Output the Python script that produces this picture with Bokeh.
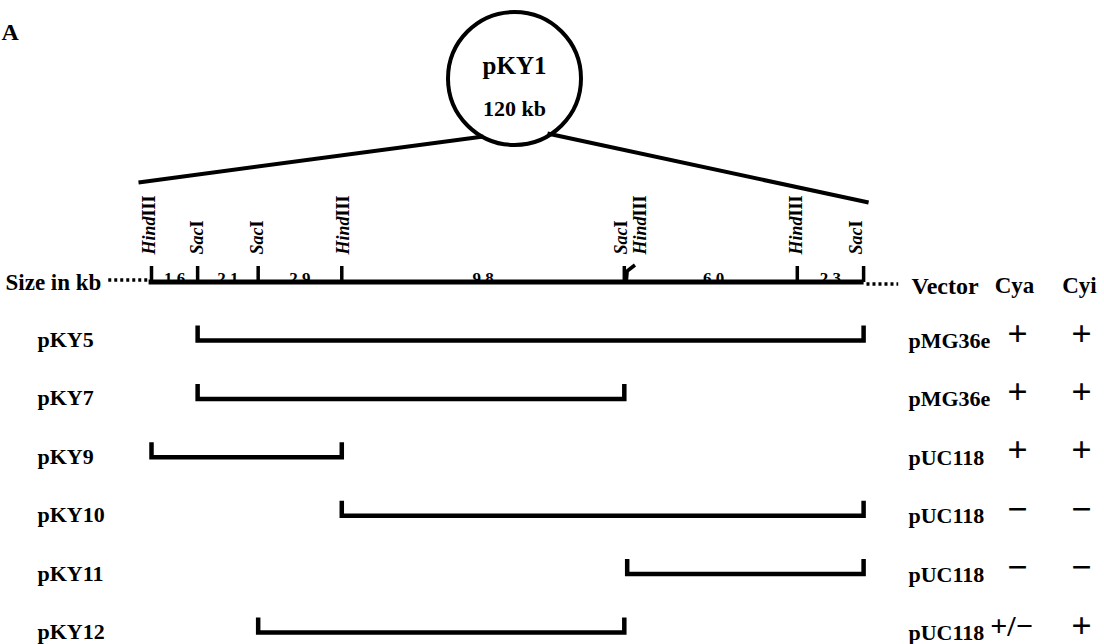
from bokeh.plotting import figure
from bokeh.models import Range1d
from bokeh.embed import file_html
from bokeh.resources import INLINE
from bokeh.core.properties import value

# ---------------- data ----------------
panel_label = "A"
plasmid_name = "pKY1"
plasmid_size = "120 kb"

site_names = ["HindIII", "SacI", "SacI", "HindIII", "SacI", "HindIII", "HindIII", "SacI"]
site_kb = [0.0, 1.6, 3.7, 6.6, 16.4, 16.5, 22.4, 24.7]

fragment_start_kb = [0.0, 1.6, 3.7, 6.6, 16.5, 22.4]
fragment_sizes = [1.6, 2.1, 2.9, 9.8, 6.0, 2.3]
fragment_labels = ["1.6", "2.1", "2.9", "9.8", "6.0", "2.3"]

clone_names = ["pKY5", "pKY7", "pKY9", "pKY10", "pKY11", "pKY12"]
clone_start_kb = [1.6, 1.6, 0.0, 6.6, 16.5, 3.7]
clone_end_kb = [24.7, 16.4, 6.6, 24.7, 24.7, 16.4]
vectors = ["pMG36e", "pMG36e", "pUC118", "pUC118", "pUC118", "pUC118"]
cya = ["+", "+", "+", "\u2212", "\u2212", "+/\u2212"]
cyi = ["+", "+", "+", "\u2212", "\u2212", "+"]
col_headers = ["Vector", "Cya", "Cyi"]
axis_title = "Size in kb"

# ---------------- layout ----------------
W, H = 1104, 644
KB_PX = 28.83          # pixels per kb
MAP_X0 = 151           # page x of 0 kb
MAP_Y = 281.5
ROW0_Y = 340.0
ROW_DY = 58.4
FONT = value("Liberation Serif")

p = figure(width=W, height=H, output_backend="svg", toolbar_location=None,
           x_range=Range1d((0 - MAP_X0) / KB_PX, (W - MAP_X0) / KB_PX),
           y_range=Range1d(H, 0), min_border=0, title=None,
           x_axis_type=None, y_axis_type=None)
p.extra_x_ranges = {"px": Range1d(0, W)}
p.xgrid.visible = False
p.ygrid.visible = False
p.outline_line_color = None
p.background_fill_color = "white"
p.border_fill_color = "white"

BLACK = "#000000"

# panel letter
p.text(x=[1], y=[31], text=[panel_label], text_font=FONT, text_font_style="bold",
       text_font_size="24px", text_align="left", text_baseline="alphabetic",
       text_color=BLACK, x_range_name="px")

# ---- plasmid circle and zoom lines ----
p.scatter(x=[514], y=[78], marker="circle", size=133, fill_color=None,
          line_color=BLACK, line_width=4, x_range_name="px")
p.text(x=[514], y=[65], text=[plasmid_name], text_font=FONT, text_font_style="bold",
       text_font_size="25px", text_align="center", text_baseline="middle",
       text_color=BLACK, x_range_name="px")
p.text(x=[514], y=[108], text=[plasmid_size], text_font=FONT, text_font_style="bold",
       text_font_size="22px", text_align="center", text_baseline="middle",
       text_color=BLACK, x_range_name="px")
map_left_px = MAP_X0 + site_kb[0] * KB_PX
map_right_px = MAP_X0 + site_kb[-1] * KB_PX
p.line(x=[map_left_px - 13, 483], y=[182, 136], line_width=4, line_color=BLACK, x_range_name="px")
p.line(x=[547, map_right_px + 5], y=[133, 202], line_width=4, line_color=BLACK, x_range_name="px")

# ---- restriction map ----
p.line(x=[site_kb[0] - 0.1, site_kb[-1]], y=[MAP_Y, MAP_Y], line_width=5, line_color=BLACK)
p.line(x=[site_kb[0] - 1.5, site_kb[0] - 0.1], y=[MAP_Y - 2, MAP_Y - 2], line_width=3.5,
       line_color=BLACK, line_dash="3 3")
p.line(x=[site_kb[-1] + 0.1, site_kb[-1] + 1.2], y=[MAP_Y + 2, MAP_Y + 2], line_width=3.5,
       line_color=BLACK, line_dash="3 3")

tick_xs, tick_ys = [], []
for i, k in enumerate(site_kb):
    if i > 0 and k - site_kb[i - 1] < 0.3:
        # closely spaced neighbour: drawn as a leaning hook
        tick_xs.append([k - 0.03, k, k + 0.27])
        tick_ys.append([MAP_Y - 1, MAP_Y - 11, MAP_Y - 17])
    else:
        tick_xs.append([k, k])
        tick_ys.append([MAP_Y, MAP_Y - 16])
p.multi_line(xs=tick_xs, ys=tick_ys, line_width=3.5, line_color=BLACK)

# enzyme labels (rotated, italic genus part + roman numeral)
label_shift_kb = [-0.1, -0.03, -0.03, 0.03, -0.1, 0.45, -0.03, -0.25]
LBL_SIZE = 18
LBL_BOTTOM = 254
for name, k, sh in zip(site_names, site_kb, label_shift_kb):
    italic = name.rstrip("I")
    roman = name[len(italic):]
    ital_len = {"Hind": 2.112, "Sac": 1.5}[italic] * LBL_SIZE
    p.text(x=[k + sh], y=[LBL_BOTTOM], text=[italic], angle=1.5708,
           text_font=FONT, text_font_style="bold italic", text_font_size=f"{LBL_SIZE}px",
           text_align="left", text_baseline="middle", text_color=BLACK)
    p.text(x=[k + sh], y=[LBL_BOTTOM - ital_len], text=[roman], angle=1.5708,
           text_font=FONT, text_font_style="bold", text_font_size=f"{LBL_SIZE}px",
           text_align="left", text_baseline="middle", text_color=BLACK)

# fragment size labels
mids = [s + z / 2 for s, z in zip(fragment_start_kb, fragment_sizes)]
p.text(x=mids, y=[MAP_Y - 4] * len(mids), text=fragment_labels, text_font=FONT,
       text_font_style="bold", text_font_size="17px", text_align="center",
       text_baseline="alphabetic", text_color=BLACK)

p.text(x=[5], y=[MAP_Y], text=[axis_title], text_font=FONT, text_font_style="bold",
       text_font_size="23px", text_align="left", text_baseline="alphabetic",
       text_color=BLACK, x_range_name="px")

# column headers
HDR_Y = 285
p.text(x=[911], y=[HDR_Y], text=[col_headers[0]], text_font=FONT, text_font_style="bold",
       text_font_size="24px", text_align="left", text_baseline="alphabetic",
       text_color=BLACK, x_range_name="px")
p.text(x=[1014, 1079], y=[HDR_Y, HDR_Y], text=col_headers[1:], text_font=FONT,
       text_font_style="bold", text_font_size="23px", text_align="center",
       text_baseline="alphabetic", text_color=BLACK, x_range_name="px")

# ---- clones ----
row_y = [ROW0_Y + i * ROW_DY for i in range(len(clone_names))]
bx, by = [], []
for s, e, y in zip(clone_start_kb, clone_end_kb, row_y):
    bx.append([s, s, e, e])
    by.append([y - 15, y, y, y - 15])
p.multi_line(xs=bx, ys=by, line_width=4.5, line_color=BLACK, line_join="miter")

p.text(x=[37] * len(clone_names), y=[y - 1 for y in row_y], text=clone_names, text_font=FONT,
       text_font_style="bold", text_font_size="22px", text_align="left",
       text_baseline="alphabetic", text_color=BLACK, x_range_name="px")
p.text(x=[908] * len(vectors), y=[y for y in row_y], text=vectors, text_font=FONT,
       text_font_style="bold", text_font_size="22px", text_align="left",
       text_baseline="alphabetic", text_color=BLACK, x_range_name="px")

# phenotype symbols: single symbols large, the combined "+/−" a bit condensed
for col_x, col_vals in ((1017, cya), (1081, cyi)):
    single = [i for i, v in enumerate(col_vals) if len(v) == 1]
    multi = [i for i, v in enumerate(col_vals) if len(v) > 1]
    if single:
        p.text(x=[col_x] * len(single), y=[row_y[i] - 7 for i in single],
               text=[col_vals[i] for i in single], text_font=FONT,
               text_font_style="bold", text_font_size="36px", text_align="center",
               text_baseline="middle", text_color=BLACK, x_range_name="px")
    if multi:
        p.text(x=[col_x - 6] * len(multi), y=[row_y[i] - 7 for i in multi],
               text=[col_vals[i] for i in multi], text_font=FONT,
               text_font_style="bold", text_font_size="30px", text_align="center",
               text_baseline="middle", text_color=BLACK, x_range_name="px")

open("out.html", "w").write(file_html(p, INLINE))
